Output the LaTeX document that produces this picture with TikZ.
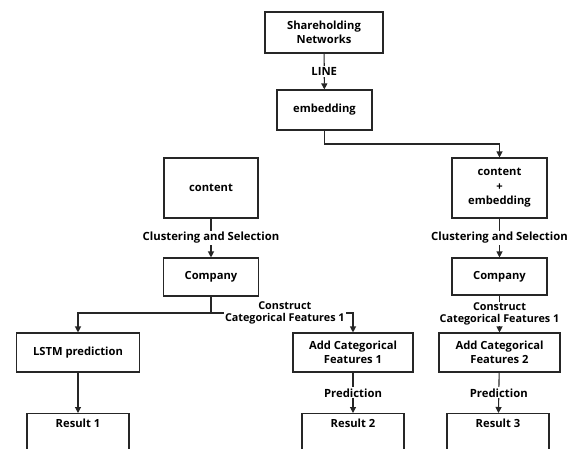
\documentclass[tikz,border=0pt]{standalone}
\usepackage{fontspec}
\setmainfont{Open Sans}
\usetikzlibrary{arrows.meta}
\tikzset{
    box/.style={shape=rectangle,draw=black!85,line width=1.1pt,align=center,
        font=\bfseries\fontsize{11.2}{14.5}\selectfont,inner sep=2pt},
    resbox/.style={box,minimum width=102pt,text height=12pt,text depth=40pt,anchor=north},
    lbl/.style={fill=white,align=center,inner sep=1pt,
        font=\bfseries\fontsize{11.3}{12}\selectfont},
    clbl/.style={lbl,font=\bfseries\fontsize{10.8}{12}\selectfont},
    arr/.style={draw=black!85,line width=1.1pt,-{Triangle[length=6pt,width=6pt]}}
}
\begin{document}
\begin{tikzpicture}[x=1pt,y=-1pt]
    \useasboundingbox (0,0) rectangle (568,448);
    \clip (0,0) rectangle (568,448);
    \node[box,minimum width=118pt,minimum height=41pt] (net) at (324,32.5) {Shareholding\\Networks};
    \node[box,minimum width=95pt,minimum height=40pt] (emb) at (324.5,110) {embedding};
    \node[box,minimum width=94pt,minimum height=60pt] (cont) at (211,188) {content};
    \node[box,minimum width=95pt,minimum height=60pt] (contemb) at (499.5,188) {content\\+\\embedding};
    \node[box,minimum width=95pt,minimum height=38pt] (comp1) at (211,277) {Company};
    \node[box,minimum width=95pt,minimum height=37pt] (comp2) at (499.5,276.5) {Company};
    \node[box,minimum width=123pt,minimum height=39pt] (lstm) at (78,352.5) {LSTM prediction};
    \node[box,minimum width=120pt,minimum height=39pt] (add1) at (353,352.5) {Add Categorical\\Features 1};
    \node[box,minimum width=121pt,minimum height=39pt] (add2) at (499.5,352.5) {Add Categorical\\Features 2};
    \node[resbox] (res1) at (78,413) {Result 1};
    \node[resbox] (res2) at (353,413) {Result 2};
    \node[resbox] (res3) at (498,413) {Result 3};
    \coordinate (turn) at (324.5,144);
    \coordinate (split) at (211,313);
    \draw[arr] (net) -- node[lbl] {LINE} (emb);
    \draw[arr] (emb) -- (turn) -| (contemb);
    \draw[arr] (cont) -- node[lbl] {Clustering and Selection} (comp1);
    \draw[arr] (contemb) -- node[lbl] {Clustering and Selection} (comp2);
    \draw[arr] (comp1) -- (split) -| (lstm);
    \draw[arr] (split) -| node[clbl,pos=0.26] {Construct\\Categorical Features 1} (add1);
    \draw[arr] (comp2) -- node[clbl] {Construct\\Categorical Features 1} (add2);
    \draw[arr] (lstm) -- (res1);
    \draw[arr] (add1) -- node[lbl] {Prediction} (res2);
    \draw[arr] (add2) -- node[lbl] {Prediction} (res3);
\end{tikzpicture}
\end{document}
